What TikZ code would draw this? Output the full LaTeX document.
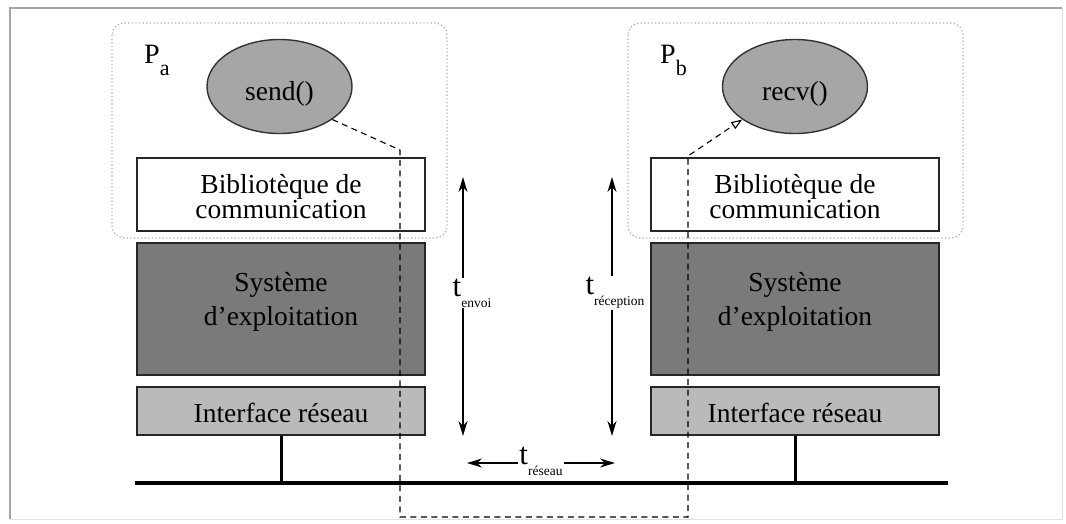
\documentclass[tikz,border=0pt]{standalone}
\usepackage{fontspec}
\setmainfont{Liberation Serif}
\usetikzlibrary{arrows.meta,shapes.geometric}

\newcommand{\bigtxt}{\fontsize{27.5}{28}\selectfont}
\newcommand{\tlabel}[1]{{\fontsize{31}{31}\selectfont t}\raisebox{-11pt}{\fontsize{13.5}{13.5}\selectfont #1}}

\definecolor{ellgray}{HTML}{A6A6A6}
\definecolor{osgray}{HTML}{7A7A7A}
\definecolor{nicgray}{HTML}{BABABA}

\tikzset{
  layer/.style={draw=black!85, line width=1.6pt, minimum width=288pt, inner sep=0pt},
  layertext/.style={anchor=base, inner sep=0pt, font=\bigtxt},
  process/.style={draw=gray!65, line width=1.2pt, dash pattern=on 1.2pt off 2.4pt,
                  rounded corners=12pt},
  callnode/.style={ellipse, draw=black!80, line width=1.4pt, fill=ellgray,
                   minimum width=145pt, minimum height=94pt, inner sep=0pt},
  timearrow/.style={line width=1.3pt, {Stealth[length=15pt,width=9pt]}-{Stealth[length=15pt,width=9pt]}},
  tlab/.style={fill=white, inner sep=1pt},
  msgpath/.style={black, line width=1.1pt, dash pattern=on 6pt off 4.5pt},
  proclabel/.style={inner sep=0pt, anchor=base west},
}

\begin{document}
\begin{tikzpicture}[x=1pt, y=-1pt]
\useasboundingbox (0,0) rectangle (1066,523);

% outer frame
\draw[gray!70, line width=2pt] (10,519) -- (10,8) -- (1062,8);
\draw[gray!25, line width=1pt] (1062,8) -- (1062,519) -- (10,519);

% process boundaries
\draw[process] (112,23) rectangle (447,238);
\draw[process] (628,23) rectangle (963,238);

\node[proclabel] (pa) at (144,63) {{\fontsize{28}{28}\selectfont P}\raisebox{-12pt}{\fontsize{22}{22}\selectfont a}};
\node[proclabel] (pb) at (660,63) {{\fontsize{28}{28}\selectfont P}\raisebox{-12pt}{\fontsize{22}{22}\selectfont b}};

% left stack
\node[layer, fill=white, minimum height=73pt] (libA) at (281,194.5) {};
\node[layertext] (libA1) at (281,193.5) {Bibliotèque de};
\node[layertext] (libA2) at (281,218.5) {communication};
\node[layer, fill=osgray, minimum height=132pt] (osA) at (281,309) {};
\node[layertext] (osA1) at (281,291) {Système};
\node[layertext] (osA2) at (281,325) {d’exploitation};
\node[layer, fill=nicgray, minimum height=48pt] (nicA) at (281,411) {};
\node[layertext] (nicA1) at (281,422) {Interface réseau};

% right stack
\node[layer, fill=white, minimum height=73pt] (libB) at (795,194.5) {};
\node[layertext] (libB1) at (795,193.5) {Bibliotèque de};
\node[layertext] (libB2) at (795,218.5) {communication};
\node[layer, fill=osgray, minimum height=132pt] (osB) at (795,309) {};
\node[layertext] (osB1) at (795,291) {Système};
\node[layertext] (osB2) at (795,325) {d’exploitation};
\node[layer, fill=nicgray, minimum height=48pt] (nicB) at (795,411) {};
\node[layertext] (nicB1) at (795,422) {Interface réseau};

% calls
\node[callnode] (send) at (279.5,86.5) {};
\node[layertext] (sendt) at (279.5,100) {send()};
\node[callnode] (recv) at (795,86.5) {};
\node[layertext] (recvt) at (795,100) {recv()};

% network bus
\coordinate (busL) at (135,483);
\coordinate (busR) at (948,483);
\draw[line width=4pt] (busL) -- (busR);
\draw[line width=3pt] (nicA.south) -- (nicA.south |- busL);
\draw[line width=3pt] (nicB.south) -- (nicB.south |- busL);

% timing arrows
\coordinate (envT) at (463,177);
\coordinate (envB) at (463,436);
\draw[timearrow] (envT) -- (envB);
\node[tlab] (tenv) at (472,293) {\tlabel{envoi}};

\coordinate (recT) at (612,177);
\coordinate (recB) at (612,436);
\draw[timearrow] (recT) -- (recB);
\node[tlab] (trec) at (615,293) {\tlabel{réception}};

\coordinate (netL) at (467,463);
\coordinate (netR) at (615,463);
\draw[timearrow] (netL) -- (netR);
\node[tlab] (tnet) at (541,461) {\tlabel{réseau}};

% message path
\coordinate (m1) at (400,150);
\coordinate (m2) at (400,517);
\coordinate (m3) at (688,517);
\coordinate (m4) at (688,156);
\draw[msgpath, -{Triangle[open,length=11pt,width=8pt]}]
  (send.-32) -- (m1) -- (m2) -- (m3) -- (m4) -- (recv.212);
\end{tikzpicture}
\end{document}
